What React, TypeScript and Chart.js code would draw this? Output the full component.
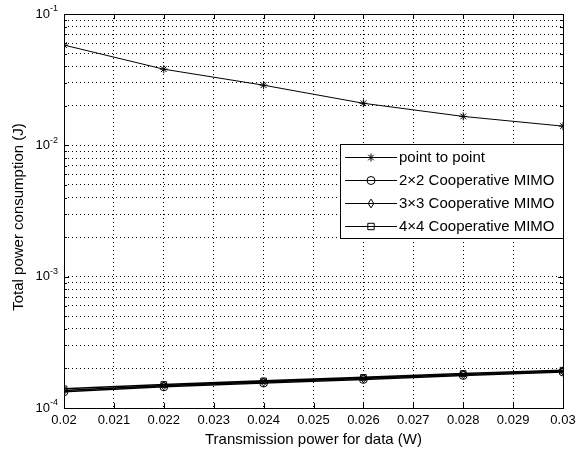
import React, { useEffect, useRef } from "react";
import { Chart, registerables } from "chart.js";

Chart.register(...registerables);

const xValues = [0.02, 0.022, 0.024, 0.026, 0.028, 0.03];
const pointToPoint = [0.058, 0.038, 0.0287, 0.0209, 0.0166, 0.014];
const mimo2x2 = [1.33e-4, 1.45e-4, 1.55e-4, 1.65e-4, 1.77e-4, 1.88e-4];
const mimo3x3 = [1.36e-4, 1.48e-4, 1.58e-4, 1.68e-4, 1.8e-4, 1.91e-4];
const mimo4x4 = [1.4e-4, 1.51e-4, 1.61e-4, 1.71e-4, 1.83e-4, 1.94e-4];

const seriesNames = ["point to point", "2\u00d72 Cooperative MIMO", "3\u00d73 Cooperative MIMO", "4\u00d74 Cooperative MIMO"];
const seriesMarkers = ["star", "circle", "rectRot", "rect"];

const xTicks = [0.02, 0.021, 0.022, 0.023, 0.024, 0.025, 0.026, 0.027, 0.028, 0.029, 0.03];
const xTickLabels = ["0.02", "0.021", "0.022", "0.023", "0.024", "0.025", "0.026", "0.027", "0.028", "0.029", "0.03"];
const yMajorTicks = [1e-4, 1e-3, 1e-2, 1e-1];
const yTickExponents = ["-4", "-3", "-2", "-1"];

const xTitle = "Transmission power for data (W)";
const yTitle = "Total power consumption (J)";

const FONT = '"Liberation Sans", Arial, sans-serif';

function yAllTicks(): number[] {
  const t: number[] = [];
  for (let i = 0; i < yMajorTicks.length; i++) {
    const base = yMajorTicks[i];
    t.push(base);
    if (i < yMajorTicks.length - 1) {
      for (let m = 2; m <= 9; m++) t.push(base * m);
    }
  }
  return t;
}

function drawMarker(ctx: CanvasRenderingContext2D, style: string, x: number, y: number, r: number) {
  ctx.beginPath();
  if (style === "circle") {
    ctx.arc(x, y, r, 0, Math.PI * 2);
  } else if (style === "rect") {
    ctx.rect(x - r * 0.8, y - r * 0.8, r * 1.6, r * 1.6);
  } else if (style === "rectRot") {
    ctx.moveTo(x, y - r * 1.1);
    ctx.lineTo(x + r * 0.7, y);
    ctx.lineTo(x, y + r * 1.1);
    ctx.lineTo(x - r * 0.7, y);
    ctx.closePath();
  } else {
    ctx.moveTo(x - r, y);
    ctx.lineTo(x + r, y);
    ctx.moveTo(x, y - r);
    ctx.lineTo(x, y + r);
    const d = r * 0.7;
    ctx.moveTo(x - d, y - d);
    ctx.lineTo(x + d, y + d);
    ctx.moveTo(x - d, y + d);
    ctx.lineTo(x + d, y - d);
  }
  ctx.stroke();
}

const framePlugin = {
  id: "matlabFrame",
  afterDraw(chart: any) {
    const ctx = chart.ctx as CanvasRenderingContext2D;
    const { left, right, top, bottom } = chart.chartArea;
    const xs = chart.scales.x;
    const ys = chart.scales.y;
    ctx.save();
    ctx.strokeStyle = "#000";
    ctx.lineWidth = 1;
    ctx.setLineDash([]);
    ctx.strokeRect(Math.round(left) + 0.5, Math.round(top) + 0.5, Math.round(right - left), Math.round(bottom - top));
    ctx.beginPath();
    xTicks.forEach((v) => {
      const px = Math.round(xs.getPixelForValue(v)) + 0.5;
      ctx.moveTo(px, bottom);
      ctx.lineTo(px, bottom - 5);
      ctx.moveTo(px, top);
      ctx.lineTo(px, top + 5);
    });
    yAllTicks().forEach((v) => {
      const py = Math.round(ys.getPixelForValue(v)) + 0.5;
      const major = yMajorTicks.some((m) => Math.abs(m - v) / m < 1e-9);
      const len = major ? 5 : 3;
      ctx.moveTo(left, py);
      ctx.lineTo(left + len, py);
      ctx.moveTo(right, py);
      ctx.lineTo(right - len, py);
    });
    ctx.stroke();

    ctx.fillStyle = "#000";
    ctx.font = `13px ${FONT}`;
    ctx.textAlign = "center";
    ctx.textBaseline = "middle";
    xTicks.forEach((v, i) => {
      ctx.fillText(xTickLabels[i], xs.getPixelForValue(v), bottom + 12);
    });
    yMajorTicks.forEach((v, i) => {
      const py = ys.getPixelForValue(v);
      ctx.font = `13px ${FONT}`;
      ctx.textAlign = "right";
      ctx.textBaseline = "middle";
      ctx.fillText("10", left - 14, py);
      ctx.font = `9px ${FONT}`;
      ctx.textAlign = "left";
      ctx.fillText(yTickExponents[i], left - 14, py - 5);
    });
    ctx.font = `15px ${FONT}`;
    ctx.textAlign = "center";
    ctx.textBaseline = "middle";
    ctx.fillText(xTitle, (left + right) / 2, 440);
    ctx.save();
    ctx.translate(19, (top + bottom) / 2 + 6);
    ctx.rotate(-Math.PI / 2);
    ctx.fillText(yTitle, 0, 0);
    ctx.restore();

    const lx = 340;
    const ly = 144;
    const lw = Math.round(right) - lx;
    const lh = 94;
    ctx.fillStyle = "#fff";
    ctx.fillRect(lx, ly, lw, lh);
    ctx.strokeStyle = "#000";
    ctx.lineWidth = 1;
    ctx.strokeRect(lx + 0.5, ly + 0.5, lw, lh);
    chart.data.datasets.forEach((ds: any, i: number) => {
      const yy = 157 + i * 23;
      ctx.strokeStyle = "#000";
      ctx.lineWidth = 1;
      ctx.beginPath();
      ctx.moveTo(345, yy + 0.5);
      ctx.lineTo(397, yy + 0.5);
      ctx.stroke();
      drawMarker(ctx, ds.pointStyle, 371, yy + 0.5, 4);
      ctx.fillStyle = "#000";
      ctx.font = `15px ${FONT}`;
      ctx.textAlign = "left";
      ctx.textBaseline = "middle";
      ctx.fillText(seriesNames[i], 399, yy + 1);
    });
    ctx.restore();
  },
};

export default function App() {
  const ref = useRef<HTMLCanvasElement | null>(null);
  useEffect(() => {
    if (!ref.current) return;
    const mk = (vals: number[]) => vals.map((y, i) => ({ x: xValues[i], y }));
    const seriesValues = [pointToPoint, mimo2x2, mimo3x3, mimo4x4];
    const chart = new Chart(ref.current, {
      type: "line",
      data: {
        datasets: seriesValues.map((vals, i) => ({
          label: seriesNames[i],
          data: mk(vals),
          borderColor: "#000",
          backgroundColor: "rgba(0,0,0,0)",
          borderWidth: i === 0 ? 1 : 1.6,
          pointStyle: seriesMarkers[i] as any,
          pointRadius: 4,
          pointBorderColor: "#000",
          pointBackgroundColor: "rgba(0,0,0,0)",
          pointBorderWidth: 1,
          tension: 0,
        })),
      },
      options: {
        animation: false,
        responsive: false,
        layout: { padding: { left: 64, right: 25, top: 14, bottom: 45 } },
        plugins: { legend: { display: false }, tooltip: { enabled: false } },
        scales: {
          x: {
            type: "linear",
            min: 0.02,
            max: 0.03,
            afterBuildTicks: (s: any) => {
              s.ticks = xTicks.map((v) => ({ value: v }));
            },
            ticks: { display: false },
            grid: { color: "#000", lineWidth: 1, drawTicks: false },
            border: { display: false, dash: [1, 3] },
          },
          y: {
            type: "logarithmic",
            min: 1e-4,
            max: 1e-1,
            afterBuildTicks: (s: any) => {
              s.ticks = yAllTicks().map((v) => ({ value: v }));
            },
            ticks: { display: false },
            grid: { color: "#000", lineWidth: 1, drawTicks: false },
            border: { display: false, dash: [1, 3] },
          },
        },
      },
      plugins: [framePlugin],
    });
    return () => chart.destroy();
  }, []);
  return (
    <div style={{ position: "fixed", left: 0, top: 0, width: 588, height: 453, background: "#fff" }}>
      <canvas ref={ref} width={588} height={453} />
    </div>
  );
}
